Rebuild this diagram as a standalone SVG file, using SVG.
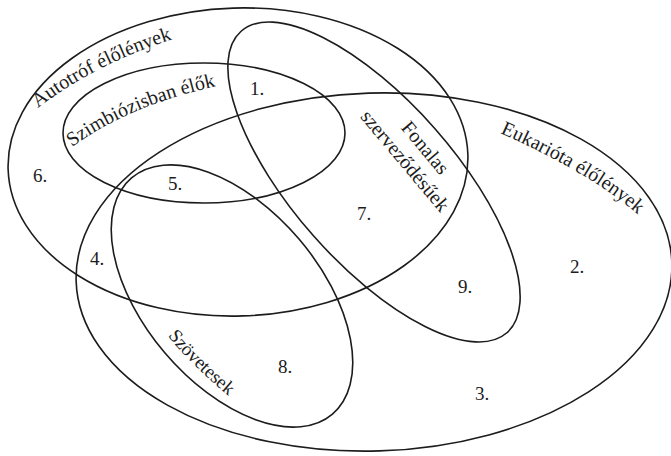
<svg xmlns="http://www.w3.org/2000/svg" width="671" height="456" viewBox="0 0 671 456">
  <style>
    .set { fill: none; stroke: #1c1c1c; stroke-width: 1.6; }
    .lbl { font-family: "Liberation Serif", "Times New Roman", serif; font-size: 20px; fill: #1c1c1c; }
    .num { font-family: "Liberation Serif", "Times New Roman", serif; font-size: 19px; fill: #1c1c1c; }
  </style>
  <defs>
    <path id="pAuto" d="M38,108 Q93.8,64.4 176,38"/>
    <path id="pSzim" d="M72,147 Q131.3,103.9 222,85"/>
    <path id="pEuk" d="M500,133 Q594.6,175.1 642,218"/>
    <path id="pSzov" d="M168,336 Q188.4,362.1 232,399"/>
  </defs>
  <rect width="671" height="456" fill="#ffffff"/>

  <g id="autotrof">
    <ellipse class="set" cx="238" cy="162" rx="230" ry="154" transform="rotate(-1.8 238 162)"/>
    <text class="lbl"><textPath href="#pAuto">Autotróf élőlények</textPath></text>
  </g>

  <g id="szimbiozis">
    <ellipse class="set" cx="204" cy="133" rx="141" ry="70"/>
    <text class="lbl"><textPath href="#pSzim">Szimbiózisban élők</textPath></text>
  </g>

  <g id="fonalas">
    <ellipse class="set" cx="374" cy="182" rx="201" ry="81" transform="rotate(48.6 374 182)"/>
    <g transform="translate(400,165) rotate(50)">
      <text class="lbl" x="3" y="-24" text-anchor="middle">Fonalas</text>
      <text class="lbl" x="0" y="0" text-anchor="middle">szerveződésűek</text>
    </g>
  </g>

  <g id="eukariota">
    <ellipse class="set" cx="374" cy="272" rx="298" ry="179" transform="rotate(-1.8 374 272)"/>
    <text class="lbl"><textPath href="#pEuk">Eukarióta élőlények</textPath></text>
  </g>

  <g id="szovetesek">
    <ellipse class="set" cx="232" cy="296" rx="155" ry="88" transform="rotate(49.6 232 296)"/>
    <text class="lbl" style="font-size:19px"><textPath href="#pSzov">Szövetesek</textPath></text>
  </g>

  <g id="regions">
    <text class="num" x="250" y="95">1.</text>
    <text class="num" x="570" y="273">2.</text>
    <text class="num" x="475" y="400">3.</text>
    <text class="num" x="90" y="265">4.</text>
    <text class="num" x="168" y="190">5.</text>
    <text class="num" x="33" y="182">6.</text>
    <text class="num" x="357" y="220">7.</text>
    <text class="num" x="278" y="373">8.</text>
    <text class="num" x="458" y="293">9.</text>
  </g>
</svg>
